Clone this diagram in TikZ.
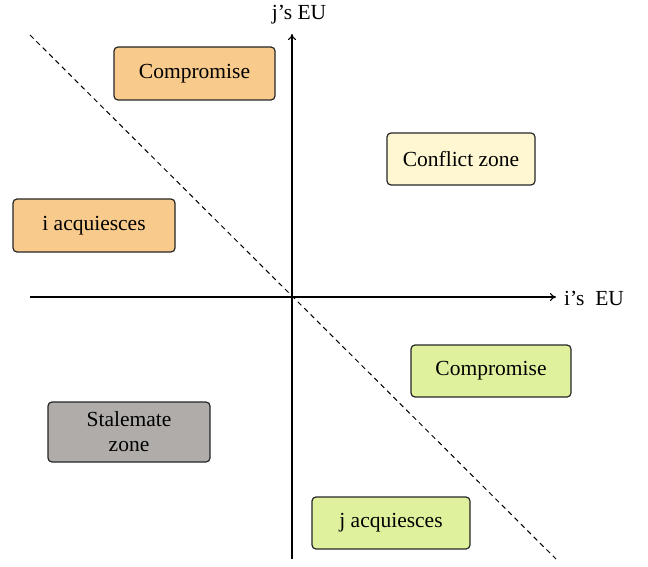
\documentclass[tikz,border=0pt]{standalone}
\usepackage{fontspec}
\setmainfont{Liberation Serif}
\usetikzlibrary{arrows.meta}
\definecolor{orangebox}{HTML}{F8CA8C}
\definecolor{yellowbox}{HTML}{FEF7D2}
\definecolor{greenbox}{HTML}{DFF19D}
\definecolor{greybox}{HTML}{B0ACA9}
\begin{document}
\begin{tikzpicture}[x=1pt,y=-1pt,
  zonebox/.style={draw=black!85, line width=1.2pt, rounded corners=4pt, inner sep=0pt, align=center, font=\fontsize{21.5}{25}\selectfont},
  axis/.style={line width=1.1pt, -{To[length=6pt,width=8pt]}},
  lbl/.style={font=\fontsize{21.5}{25}\selectfont, inner sep=0pt}]
\useasboundingbox (0,0) rectangle (648,567);
\coordinate (xs) at (30,297);
\coordinate (xe) at (556,297);
\coordinate (ys) at (292,559);
\coordinate (ye) at (292,34);
\coordinate (ds) at (30,35);
\coordinate (de) at (556,559);
\draw[line width=1pt, dash pattern=on 5pt off 4pt] (ds) -- (de);
\draw[axis] (xs) -- (xe);
\draw[axis] (ys) -- (ye);
\node[lbl, anchor=west] (ilbl) at (564,298) {i’s\ \ EU};
\node[lbl] (jlbl) at (299,15) {j’s EU};
\node[zonebox, fill=orangebox, minimum width=161pt, minimum height=53pt] (c1) at (194.5,73.5) {Compromise};
\node[zonebox, fill=yellowbox, minimum width=148pt, minimum height=52pt] (cz) at (461,159) {Conflict zone};
\node[zonebox, fill=orangebox, minimum width=162pt, minimum height=53pt] (ia) at (94,225.5) {i acquiesces};
\node[zonebox, fill=greenbox, minimum width=160pt, minimum height=52pt] (c2) at (491,371) {Compromise};
\node[zonebox, fill=greybox, minimum width=162pt, minimum height=60pt] (sz) at (129,432) {Stalemate\\zone};
\node[zonebox, fill=greenbox, minimum width=158pt, minimum height=52pt] (ja) at (391,523) {j acquiesces};
\end{tikzpicture}
\end{document}
